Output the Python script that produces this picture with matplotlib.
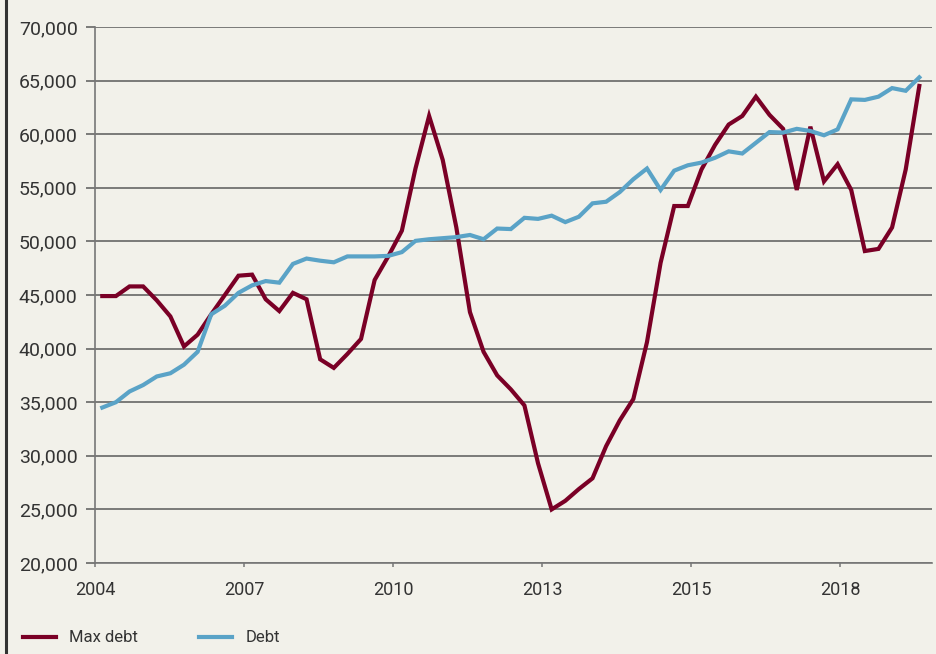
import matplotlib
matplotlib.use('Agg')
import matplotlib.pyplot as plt
from matplotlib.lines import Line2D
from matplotlib.ticker import FuncFormatter
import numpy as np

# quarterly values
max_debt = [44900, 44900, 45800, 45800, 44500, 43000, 40200, 41300, 43200, 45000,
            46800, 46900, 44600, 43500, 45200, 44600, 39000, 38200, 39500, 40900,
            46400, 48600, 51000, 56800, 61700, 57600, 51300, 43400, 39700, 37500,
            36200, 34700, 29300, 25000, 25800, 26900, 27900, 30900, 33300, 35300,
            40600, 48000, 53300, 53300, 56700, 59000, 60900, 61700, 63500, 61800,
            60500, 54800, 60700, 55600, 57200, 54800, 49100, 49300, 51300, 56700,
            64500]
debt = [34500, 35000, 36000, 36600, 37400, 37700, 38500, 39700, 43200, 44000,
        45200, 45900, 46300, 46150, 47900, 48400, 48200, 48050, 48600, 48600,
        48600, 48650, 49000, 50050, 50200, 50300, 50400, 50600, 50200, 51200,
        51150, 52200, 52100, 52400, 51800, 52300, 53550, 53700, 54600, 55800,
        56800, 54800, 56600, 57100, 57350, 57800, 58400, 58200, 59200, 60200,
        60150, 60500, 60300, 59900, 60450, 63250, 63200, 63500, 64300, 64050,
        65300]
year_labels = ['2004', '2007', '2010', '2013', '2015', '2018']
y_ticks = [20000, 25000, 30000, 35000, 40000, 45000, 50000, 55000, 60000, 65000, 70000]

bg = '#f2f1ea'
red = '#7a0026'
blue = '#5aa3c7'
txt = '#333333'

plt.rcParams['font.family'] = ['Roboto', 'DejaVu Sans']

fig = plt.figure(figsize=(9.36, 6.54), dpi=100, facecolor=bg)
ax = fig.add_axes([95/936, 91/654, 836.7/936, 536/654], facecolor=bg)

x = np.arange(len(debt))
ax.plot(x, max_debt, color=red, lw=3, solid_joinstyle='miter', label='Max debt', zorder=3)
ax.plot(x, debt, color=blue, lw=3, solid_joinstyle='miter', label='Debt', zorder=3)

ax.set_xlim(-0.536, 60.91)
ax.set_ylim(20000, 70000)
ax.set_yticks(y_ticks)
ax.yaxis.set_major_formatter(FuncFormatter(lambda v, p: '{:,.0f}'.format(v)))
ax.set_xticks(-0.5 + np.arange(len(year_labels)) * 10.94)
ax.set_xticklabels(year_labels)

ax.grid(axis='y', color='#5a5a5a', lw=1.1, zorder=1)
for s in ['top', 'right']:
    ax.spines[s].set_visible(False)
for s in ['left', 'bottom']:
    ax.spines[s].set_color('#777777')
    ax.spines[s].set_linewidth(1.2)
ax.tick_params(axis='y', length=6.5, width=1.1, color='#5a5a5a', pad=6, labelsize=14, labelcolor=txt)
ax.tick_params(axis='x', length=3, width=1.1, color='#777777', pad=10, labelsize=13, labelcolor=txt)

fig.legend(loc='center left', bbox_to_anchor=(23/936, 1 - 638/654), ncol=2, frameon=False,
           handlelength=1.95, handletextpad=0.8, columnspacing=3.7, borderpad=0,
           borderaxespad=0, fontsize=12, labelcolor=txt)

fig.add_artist(Line2D([6/936, 6/936], [0, 1], transform=fig.transFigure, color='#333333', lw=2.2))

fig.savefig('out.png', dpi=100, facecolor=bg)
